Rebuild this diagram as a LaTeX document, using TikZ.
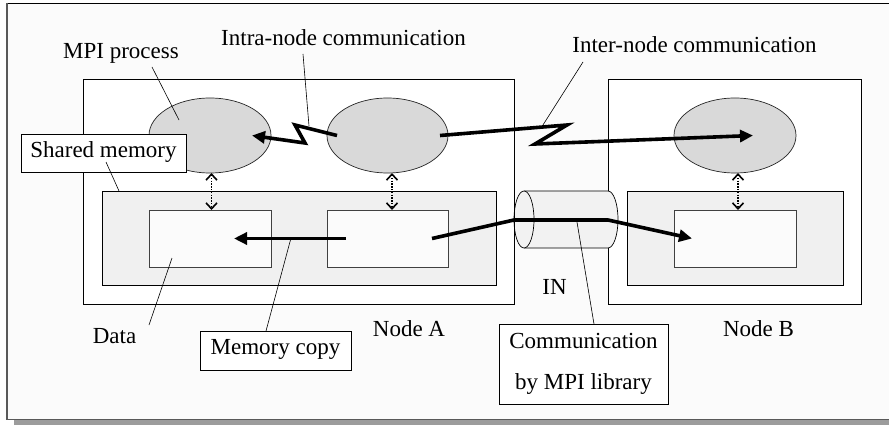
\documentclass[tikz,border=0pt]{standalone}
\usepackage{fontspec}
\setmainfont{Liberation Serif}
\usetikzlibrary{shapes.geometric,arrows.meta,calc}
\definecolor{bgc}{HTML}{FBFBFB}
\definecolor{ellc}{HTML}{D9D9D9}
\definecolor{grayc}{HTML}{F0F0F0}
\definecolor{innerc}{HTML}{FBFBFB}
\definecolor{cylc}{HTML}{F2F2F2}
\definecolor{shadc}{HTML}{9C9C9C}
\begin{document}
\begin{tikzpicture}[x=1pt,y=-1pt,
  font=\fontsize{23}{27}\selectfont,
  rbox/.style={draw=black, line width=0.8pt, inner sep=0pt, outer sep=0pt},
  hostbox/.style={rbox, fill=white},
  membox/.style={rbox, fill=grayc},
  databox/.style={rbox, draw=black!75, fill=innerc},
  proc/.style={ellipse, draw=black!85, line width=0.7pt, fill=ellc, inner sep=0pt, outer sep=0pt,
               minimum height=75pt},
  lbl/.style={anchor=base, inner sep=0pt},
  lblbox/.style={rbox, fill=white, text height=0.95em, text depth=0.1em},
  thickarrow/.style={line width=3.6pt, line join=miter, -{Triangle[length=13pt,width=12pt]}},
  dotarrow/.style={line width=1.8pt, dash pattern=on 1.5pt off 1.3pt,
     {Straight Barb[length=6pt,width=11pt,line width=1.6pt]}-{Straight Barb[length=6pt,width=11pt,line width=1.6pt]}},
  leader/.style={line width=0.6pt}]
\useasboundingbox (0,0) rectangle (889,425);
% outer frame
\fill[white] (0,0) rectangle (889,425);
\fill[bgc] (6.5,3.5) rectangle (889,419);
\fill[shadc] (14,420) rectangle (889,425);
\draw[line width=1.3pt] (6,3.3) -- (889,3.3);
\draw[line width=1.6pt, black!65] (6.8,3) -- (6.8,419.5) -- (889,419.5);
% host nodes
\node[hostbox, minimum width=431pt, minimum height=225pt] (nA) at (298.5,191.5) {};
\node[hostbox, minimum width=253pt, minimum height=225pt] (nB) at (734.5,191.5) {};
% shared memory regions
\node[membox, minimum width=394pt, minimum height=94pt] (gA) at (299,238) {};
\node[membox, minimum width=216pt, minimum height=94pt] (gB) at (735,238) {};
% data boxes
\node[databox, minimum width=122pt, minimum height=57pt] (d1) at (210,238.5) {};
\node[databox, minimum width=121pt, minimum height=57pt] (d2) at (387.5,238.5) {};
\node[databox, minimum width=122pt, minimum height=57pt] (dB) at (735,238.5) {};
% processes
\node[proc, minimum width=122pt] (e1) at (210,135.5) {};
\node[proc, minimum width=121pt] (e2) at (387.5,135.5) {};
\node[proc, minimum width=122pt] (eB) at (735,135.5) {};
% interconnect cylinder
\coordinate (cylL) at (524,219.5);
\coordinate (cylR) at (608,219.5);
\fill[cylc] (524,191) -- (608,191) arc[start angle=-90,end angle=90,x radius=10,y radius=28.5]
  -- (524,248) arc[start angle=90,end angle=270,x radius=10,y radius=28.5] -- cycle;
\draw[line width=0.7pt] (524,191) -- (608,191) arc[start angle=-90,end angle=90,x radius=10,y radius=28.5] -- (524,248);
\draw[line width=0.7pt, fill=cylc] (cylL) ellipse[x radius=10, y radius=28.5];
\draw[line width=0.8pt] (nA.north east) -- (nA.south east);
% dotted access arrows
\draw[dotarrow] ([xshift=1.5pt]e1.south) -- ([xshift=1.5pt]d1.north);
\draw[dotarrow] ([xshift=4.5pt]e2.south) -- ([xshift=4.5pt]d2.north);
\draw[dotarrow] ([xshift=3pt]eB.south) -- ([xshift=3pt]dB.north);
% intra-node communication
\coordinate (z1) at (295,125);
\coordinate (z2) at (305,143);
\draw[thickarrow] ([xshift=10pt]e2.west) -- (z1) -- (z2) -- ([xshift=-19pt]e1.east);
% inter-node communication
\coordinate (z3) at (567,125);
\coordinate (z4) at (535,144);
\draw[thickarrow] ([xshift=-8pt]e2.east) -- (z3) -- (z4) -- ([xshift=-43pt]eB.east);
% memory copy
\draw[thickarrow] ([xshift=19pt]d2.west) -- ([xshift=-37pt]d1.east);
% MPI library communication
\coordinate (c1) at (514,220);
\coordinate (c2) at (608,220);
\draw[thickarrow] ([xshift=-16pt]d2.east) -- (c1) -- (c2) -- ([xshift=18pt]dB.west);
% labels
\node[lbl] (tMPI) at (121,59) {MPI process};
\node[lbl] (tIntra) at (343.5,46) {Intra-node communication};
\node[lbl] (tInter) at (694.5,52.3) {Inter-node communication};
\node[lbl] (tData) at (114.5,343) {Data};
\node[lbl] (tNA) at (409,336.7) {Node A};
\node[lbl] (tIN) at (554.5,294) {IN};
\node[lbl] (tNB) at (758.5,336.7) {Node B};
\node[lblbox, minimum width=165pt, minimum height=38pt] (tSM) at (103.5,153) {Shared memory};
\node[lblbox, minimum width=151pt, minimum height=39pt] (tMC) at (275.5,350.5) {Memory copy};
\node[rbox, fill=white, minimum width=169pt, minimum height=80pt, align=center,
      font=\fontsize{23}{41}\selectfont] (tCM) at (583.5,364) {Communication\\by MPI library};
% leader lines
\coordinate (pMPI) at (179,120);
\coordinate (pIntra) at (309,126);
\coordinate (pInter) at (542,126.5);
\coordinate (pSM) at (119,191);
\coordinate (pData) at (172,258);
\coordinate (pMC) at (291,238);
\coordinate (pCM) at (577,222);
\draw[leader] (152,67) -- (pMPI);
\draw[leader] (303,54) -- (pIntra);
\draw[leader] (583,62) -- (pInter);
\draw[leader] (106,162) -- (pSM);
\draw[leader] (149,325) -- (pData);
\draw[leader] ([xshift=-9.5pt]tMC.north) -- (pMC);
\draw[leader] ([xshift=10.5pt]tCM.north) -- (pCM);
\end{tikzpicture}
\end{document}
